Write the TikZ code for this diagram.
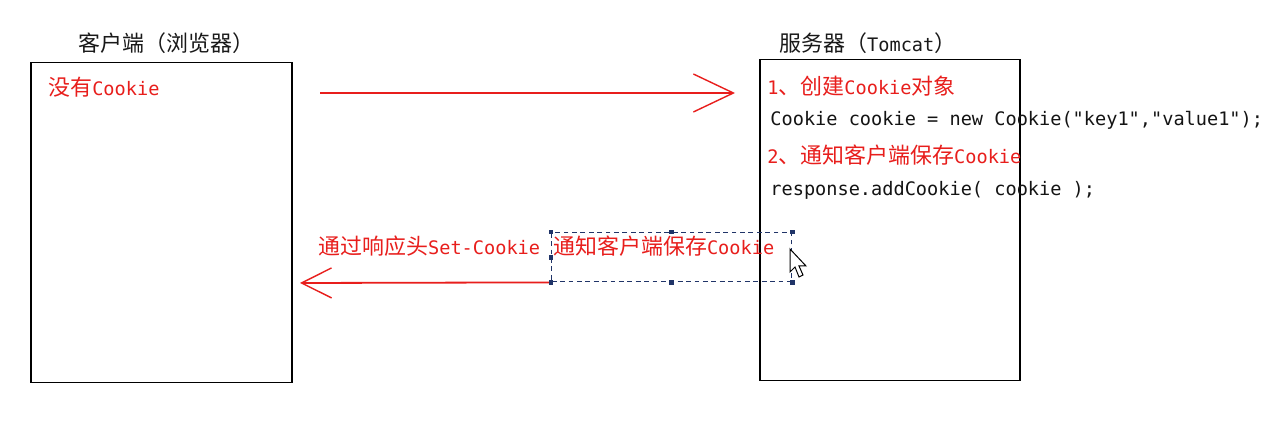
\documentclass[tikz,border=0pt]{standalone}
\usepackage{fontspec}
\usepackage{xcolor}
\usepackage{tikz}
\usetikzlibrary{arrows.meta}
\setmainfont{DejaVu Sans Mono}[Ligatures=TeXOff]
\newfontfamily\cjk{Noto Sans CJK SC}[Scale=1.18]
\definecolor{cookiered}{RGB}{232,30,28}
\definecolor{selblue}{RGB}{32,52,104}
\tikzset{
  box/.style={draw=black, line width=0.75pt, anchor=north west, inner sep=0pt},
  title/.style={anchor=west, inner sep=0pt, text=black!90},
  redtext/.style={anchor=west, inner sep=0pt, text=cookiered},
  codetext/.style={anchor=west, inner sep=0pt, text=black!92},
  redarrow/.style={draw=cookiered, line width=0.9pt},
  selbox/.style={draw=selblue, line width=0.7pt, dash pattern=on 2.4pt off 1.8pt, anchor=north west, inner sep=0pt},
  handle/.style={fill=selblue, minimum size=2.4pt, inner sep=0pt}
}
\begin{document}
\begin{tikzpicture}[x=0.5pt, y=-0.5pt, font=\fontsize{9.3}{11}\selectfont]
    \useasboundingbox (0,0) rectangle (1274,432);
    \fill[white] (0,0) rectangle (1274,432);

    % the two sides
    \node (client) at (30,62) [box, minimum width=130.5pt, minimum height=160pt] {};
    \node (server) at (759,59) [box, minimum width=130pt, minimum height=160.5pt] {};
    \node (clienttitle) at (78,43) [title] {{\cjk 客户端（浏览器）}};
    \node (servertitle) at (779,43) [title] {{\cjk 服务器（}Tomcat{\cjk ）}};

    % texts
    \node (nocookie) at (48,87) [redtext] {{\cjk 没有}Cookie};
    \node (step1) at (767,86) [redtext] {1{\cjk 、创建}Cookie{\cjk 对象}};
    \node (code1) at (770,120) [codetext] {Cookie cookie = new Cookie("key1","value1");};
    \node (step2) at (767,155) [redtext] {2{\cjk 、通知客户端保存}Cookie};
    \node (code2) at (770,190) [codetext] {response.addCookie( cookie );};

    % request
    \coordinate (reqstart) at (320,93);
    \coordinate (reqend) at (735,93);
    \draw[redarrow, -{Straight Barb[length=20pt, width=19pt, line width=0.7pt]}] (reqstart) -- (reqend);

    % response with selection
    \node (sel) at (551,232) [selbox, minimum width=120pt, minimum height=24.5pt] {};
    \node (header) at (318,246) [redtext] {{\cjk 通过响应头}Set-Cookie};
    \node (notify) at (553,246) [redtext] {{\cjk 通知客户端保存}Cookie};
    \coordinate (respend) at (300,283);
    \draw[redarrow, -{Straight Barb[length=15pt, width=15pt, line width=0.7pt]}] (sel.south west) -- (respend);
    \foreach \a in {north west, north, north east, west, east, south west, south, south east}
        \node [handle] at (sel.\a) {};

    % mouse pointer
    \draw[fill=white, line width=0.5pt, line join=miter, shift={(790,249)}]
        (0,0) -- (0,23) -- (5,18) -- (9,28) -- (13,26) -- (9,17) -- (16,17) -- cycle;
\end{tikzpicture}
\end{document}
